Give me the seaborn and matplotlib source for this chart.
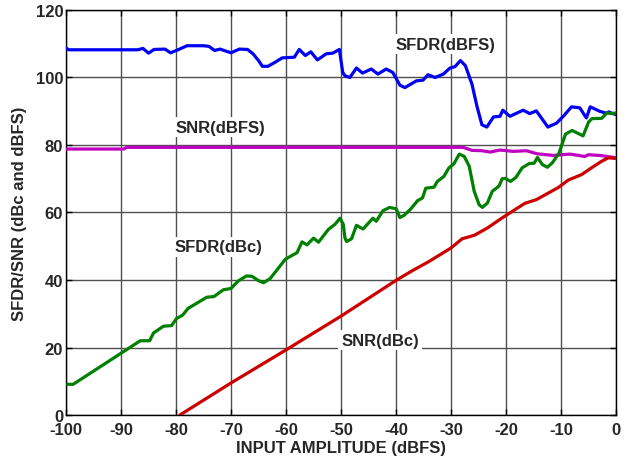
import matplotlib
matplotlib.use("Agg")
import matplotlib.pyplot as plt
import seaborn as sns
import pandas as pd

# ---- data ----
sfdr_dbfs_x = [-100, -99.5, -87, -86, -85, -84, -82, -81, -79.5, -78, -75, -74, -73, -72, -70,
               -68.5, -67, -66, -65, -64.3, -63.3, -62, -60.7, -58.5, -57.6, -56.5, -55.5, -54.3,
               -52.7, -51.5, -50.3, -49.7, -49.3, -48.4, -47.2, -46.1, -44.5, -43.3, -41.8, -40.6,
               -39.3, -38.4, -36.3, -35.1, -34.2, -32.9, -31.4, -30.2, -29.3, -28.3, -27.4, -26.2,
               -25.3, -24.4, -23.5, -22.3, -21.1, -20.6, -19.3, -16.9, -15.7, -14.5, -12.4, -10.8,
               -9.6, -8.1, -6.6, -5.4, -4.7, -3, -1.8, -1.3, -0.8, 0]
sfdr_dbfs_y = [108.7, 108.2, 108.2, 108.6, 107.2, 108.3, 108.4, 107.3, 108.3, 109.4, 109.4, 109.2,
               108, 108.4, 107.3, 108.4, 108.3, 107, 105, 103.3, 103.3, 104.5, 105.8, 106, 108.3,
               106.5, 107.6, 105.2, 107, 107.2, 108.3, 101.5, 100.5, 100, 102.8, 101.3, 102.5,
               101, 102.5, 101.5, 97.7, 97, 99, 99.2, 100.8, 100, 101, 102.8, 103.2, 105, 103.5,
               98, 91.5, 86, 85.3, 88.3, 88.5, 90.3, 88.5, 90.3, 89.3, 90.1, 85.3, 86.5, 88.5,
               91.3, 91, 88, 91.3, 90, 89.4, 89.8, 89.4, 89]

snr_dbfs_x = [-100, -89.5, -89, -27.8, -26.2, -24.4, -22.9, -21.1, -18.7, -16.3, -14.4, -11.4,
              -8.4, -5.7, -5, -3, -0.8, 0]
snr_dbfs_y = [78.8, 78.8, 79.3, 79.3, 78.4, 78.3, 77.9, 78.5, 78.1, 78.3, 77.4, 76.9, 77.3,
              76.6, 77.1, 76.9, 76.4, 76.2]

sfdr_dbc_x = [-99.7, -98.7, -86.5, -84.8, -84.1, -82.3, -80.8, -79.9, -78.8, -77.8, -74.4, -73.1,
              -71.4, -70, -68.7, -67.2, -66.2, -65, -64.1, -62.9, -60.1, -58, -57.1, -56.2, -55,
              -54.1, -52.3, -51.1, -50.2, -49.6, -49.3, -49, -48.1, -47.2, -46, -44.2, -43.6,
              -42.4, -41.2, -40, -39.3, -38.5, -37.3, -36.1, -35.2, -34.6, -33.1, -32.5, -31.3,
              -30.4, -29.5, -28.5, -27.6, -26.7, -25.8, -24.9, -24.3, -23.4, -22.5, -21.3, -20.7,
              -20.1, -19.2, -18.2, -17.1, -15.8, -14.9, -14.3, -13.4, -12.5, -11.6, -10.4, -9.2,
              -8, -6, -5, -4.4, -2.6, -1.7, -0.8, 0]
sfdr_dbc_y = [9.1, 9.1, 22, 22, 24.3, 26.3, 26.5, 28.6, 29.6, 31.6, 34.9, 35.1, 37.1, 37.5, 39.7,
              41.2, 41.1, 39.8, 39.2, 40.4, 46.2, 48.1, 51.3, 50.4, 52.4, 51.2, 55, 56.5, 58.3,
              56.5, 52.5, 51.4, 52.2, 56.2, 55.1, 58.3, 57.4, 60.5, 61.5, 61.1, 58.5, 59.2, 61.1,
              63.5, 64.3, 67.2, 67.5, 69.2, 70.7, 73.2, 74.4, 77.3, 76.6, 73.7, 66.3, 62.3, 61.5,
              62.8, 66.3, 67.8, 70, 70.1, 69.2, 70.4, 73.2, 74.5, 74.6, 76.3, 74.2, 73.4, 74.7,
              77.5, 83.2, 84.3, 82.7, 86.8, 87.8, 87.9, 89.5, 89.3, 89.5]

snr_dbc_x = [-79.3, -70, -60, -50, -40, -37, -34, -30, -28, -25.7, -23.3, -20.9, -16.6, -14.5,
             -10.5, -8.7, -6.3, -4.4, -2.6, -1.4, 0]
snr_dbc_y = [0, 9.5, 19.3, 29.3, 39.9, 42.8, 45.5, 49.5, 52.2, 53.3, 55.5, 58.2, 62.7, 63.8,
             67.4, 69.6, 71.2, 73.3, 75.2, 76.2, 76]

series_names = ["SFDR(dBFS)", "SNR(dBFS)", "SFDR(dBc)", "SNR(dBc)"]
series_colors = ["#0000F5", "#C000C0", "#008000", "#CC0000"]

x_ticks = list(range(-100, 1, 10))
y_ticks = list(range(0, 121, 20))

labels = ["SFDR(dBFS)", "SNR(dBFS)", "SFDR(dBc)", "SNR(dBc)"]
label_x = [-31.0, -72.0, -72.2, -42.9]
label_y = [109.9, 85.3, 49.8, 22.2]

# ---- build long-form table ----
frames = []
for name, xs, ys in zip(series_names,
                        [sfdr_dbfs_x, snr_dbfs_x, sfdr_dbc_x, snr_dbc_x],
                        [sfdr_dbfs_y, snr_dbfs_y, sfdr_dbc_y, snr_dbc_y]):
    frames.append(pd.DataFrame({"x": xs, "y": ys, "series": name}))
df = pd.concat(frames, ignore_index=True)

sns.set_style("white")
plt.rcParams["font.family"] = ["Liberation Sans", "DejaVu Sans"]
plt.rcParams["font.weight"] = "bold"

FS = 12

fig = plt.figure(figsize=(6.33, 4.64), dpi=100)
ax = fig.add_axes([0.1043, 0.1034, 0.8690, 0.8730])

sns.lineplot(data=df, x="x", y="y", hue="series", hue_order=series_names,
             palette=dict(zip(series_names, series_colors)), estimator=None,
             sort=False, linewidth=2.3, legend=False, ax=ax, zorder=3)

ax.set_xlim(-100, 0)
ax.set_ylim(0, 120)
ax.set_xticks(x_ticks)
ax.set_yticks(y_ticks)
ax.set_xticklabels([str(t) for t in x_ticks], fontsize=FS, fontweight="bold")
ax.set_yticklabels([str(t) for t in y_ticks], fontsize=FS, fontweight="bold")
ax.grid(True, color="#505050", linewidth=1.0, linestyle="-", zorder=1)
ax.set_axisbelow(True)
ax.tick_params(direction="in", length=4, width=1, color="black", top=True, right=True,
               bottom=True, left=True)
ax.tick_params(axis="x", pad=5)
ax.tick_params(axis="y", pad=2)
for s in ax.spines.values():
    s.set_color("black")
    s.set_linewidth(1.0)

ax.set_xlabel("INPUT AMPLITUDE (dBFS)", fontsize=FS, fontweight="bold", labelpad=2)
ax.set_ylabel("SFDR/SNR (dBc and dBFS)", fontsize=FS, fontweight="bold", labelpad=6)

for t, lx, ly in zip(labels, label_x, label_y):
    ax.text(lx, ly, t, ha="center", va="center", fontsize=FS, fontweight="bold",
            zorder=2, bbox=dict(facecolor="white", edgecolor="none", pad=2))

fig.savefig("out.png", dpi=100)
